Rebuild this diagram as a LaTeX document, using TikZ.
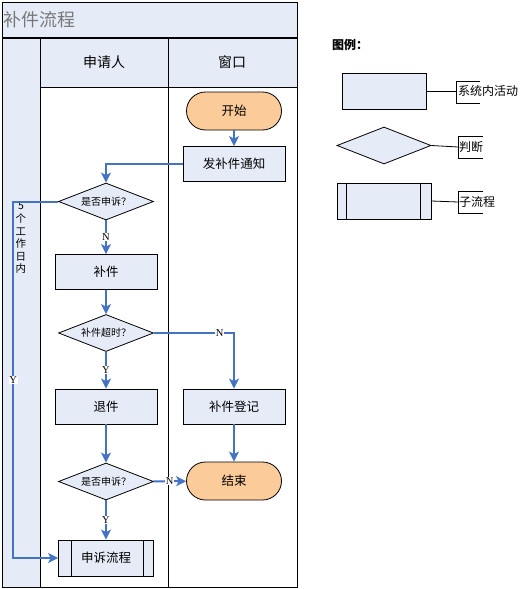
\documentclass[tikz,border=0pt]{standalone}
\usepackage{fontspec}
\newfontfamily\cjk{Noto Sans CJK SC}
\newfontfamily\pixserif{Liberation Serif}
\usetikzlibrary{shapes.geometric,arrows.meta}
\definecolor{laneblue}{RGB}{230,236,247}
\definecolor{termorange}{RGB}{251,203,153}
\definecolor{flowblue}{RGB}{68,114,196}
\definecolor{titlegray}{RGB}{120,120,120}
\begin{document}
\begin{tikzpicture}[x=1pt,y=1pt,yscale=-1,
  activity/.style={draw,line width=0.8pt,fill=laneblue,minimum width=102pt,minimum height=35pt,inner sep=0pt,font=\cjk\fontsize{12.5}{14}\selectfont},
  terminal/.style={draw,line width=0.8pt,fill=termorange,rounded corners=19pt,minimum width=95pt,minimum height=38pt,inner sep=0pt,font=\cjk\fontsize{12.5}{14}\selectfont},
  decision/.style={draw,line width=0.8pt,fill=laneblue,diamond,aspect=2.5,minimum width=95pt,minimum height=37pt,inner sep=0pt,font=\cjk\fontsize{10}{12}\selectfont},
  subproc/.style={draw,line width=0.8pt,fill=laneblue,minimum width=95pt,minimum height=36pt,inner sep=0pt,font=\cjk\fontsize{12.5}{14}\selectfont},
  flow/.style={draw=flowblue,line width=2pt,-{Stealth[length=10pt,width=10pt,inset=2.5pt]}},
  yn/.style={fill=white,inner sep=0.8pt,font=\pixserif\fontsize{10.5}{11}\selectfont},
  legendtext/.style={anchor=west,inner sep=1pt,font=\cjk\fontsize{12}{13}\selectfont},
]
\useasboundingbox (0,0) rectangle (526,589);

%Shape: Swimlane frame
\draw [line width=0.8pt,fill=laneblue] (2,2) rectangle (297,38);
\draw [line width=0.8pt,fill=laneblue] (2,38) rectangle (40,587);
\draw [line width=0.8pt,fill=laneblue] (40,38) rectangle (297,87);
\draw [line width=0.8pt,fill=white] (40,87) rectangle (297,587);
\draw [line width=0.8pt] (168,38) -- (168,587);
\draw [line width=1.8pt] (2,38) -- (297,38);

% Text Node
\node [anchor=west,inner sep=1pt,text=titlegray,font=\cjk\fontsize{18}{20}\selectfont] (title) at (2,20) {补件流程};
\node [font=\cjk\fontsize{14}{16}\selectfont] (applicant) at (104,62) {申请人};
\node [font=\cjk\fontsize{14}{16}\selectfont] (window) at (232,62) {窗口};
\node [align=center,inner sep=0pt,font=\cjk\fontsize{10.5}{12.6}\selectfont] (days) at (21,238) {5\\个\\工\\作\\日\\内};

%Shape: Flow nodes
\node [terminal] (start) at (234,111) {开始};
\node [activity] (notice) at (234,164) {发补件通知};
\node [decision] (ask1) at (106,201.5) {是否申诉？};
\node [activity] (supply) at (106,272) {补件};
\node [decision] (overdue) at (106,333) {补件超时？};
\node [activity] (reject) at (106,406.5) {退件};
\node [activity] (register) at (234,406.5) {补件登记};
\node [decision] (ask2) at (106,481.5) {是否申诉？};
\node [terminal] (finish) at (234,481) {结束};
\node [subproc] (appeal) at (106,558) {申诉流程};
\draw [line width=0.8pt] ([xshift=13pt]appeal.north west) -- ([xshift=13pt]appeal.south west);
\draw [line width=0.8pt] ([xshift=-11pt]appeal.north east) -- ([xshift=-11pt]appeal.south east);

%Straight Lines
\draw [flow] (start) -- (notice);
\draw [flow] (notice.west) -| (ask1.north);
\draw [flow] (ask1) -- node [yn] {N} (supply);
\draw [flow] (ask1.west) -- ++(-45,0) |- node [yn,pos=0.25] {Y} (appeal.west);
\draw [flow] (supply) -- (overdue);
\draw [flow] (overdue) -- node [yn] {Y} (reject);
\draw [flow] (overdue.east) -| node [yn,pos=0.41] {N} (register.north);
\draw [flow] (reject) -- (ask2);
\draw [flow] (register) -- (finish);
\draw [flow] (ask2) -- node [yn] {N} (finish);
\draw [flow] (ask2) -- node [yn] {Y} (appeal);

%Shape: Legend
\node [anchor=west,inner sep=1pt,font=\cjk\bfseries\fontsize{12}{14}\selectfont] (legend) at (331,45) {图例：};
\node [draw,line width=0.8pt,fill=laneblue,minimum width=84pt,minimum height=36pt,inner sep=0pt] (lgact) at (384,91) {};
\node [draw,line width=0.8pt,fill=laneblue,diamond,aspect=2.5,minimum width=94pt,minimum height=37pt,inner sep=0pt] (lgdec) at (384,145.5) {};
\node [draw,line width=0.8pt,fill=laneblue,minimum width=94pt,minimum height=36pt,inner sep=0pt] (lgsub) at (384,201) {};
\draw [line width=0.8pt] ([xshift=10pt]lgsub.north west) -- ([xshift=10pt]lgsub.south west);
\draw [line width=0.8pt] ([xshift=-11pt]lgsub.north east) -- ([xshift=-11pt]lgsub.south east);

\coordinate (brA) at (456,91);
\coordinate (brB) at (458,147);
\coordinate (brC) at (458,202);
\draw [line width=0.8pt] (lgact.east) -- (brA);
\draw [line width=0.8pt] (lgdec.east) -- (brB);
\draw [line width=0.8pt] (lgsub.east) -- (brC);
\draw [line width=0.8pt] (480,81) -- (456,81) -- (456,103) -- (480,103);
\draw [line width=0.8pt] (483,136) -- (458,136) -- (458,158) -- (483,158);
\draw [line width=0.8pt] (483,191) -- (458,191) -- (458,213) -- (483,213);
\node [legendtext] (lgacttext) at (457,91) {系统内活动};
\node [legendtext] (lgdectext) at (458,147) {判断};
\node [legendtext] (lgsubtext) at (458,202) {子流程};

\end{tikzpicture}
\end{document}
